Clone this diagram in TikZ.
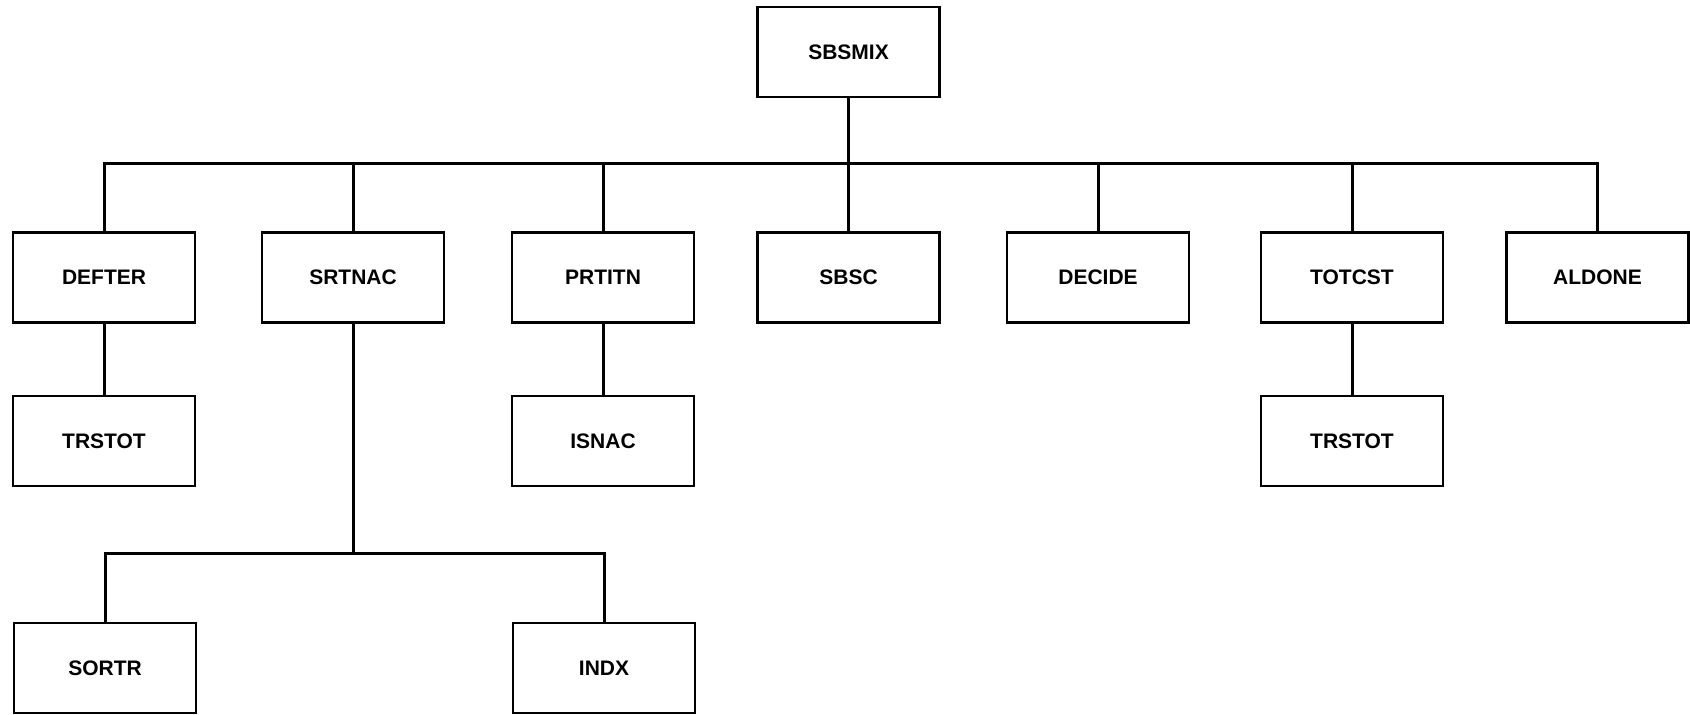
\documentclass[tikz,border=0pt]{standalone}
\usepackage{fontspec}
\setmainfont{Liberation Sans}
\begin{document}
\begin{tikzpicture}[x=1pt,y=-1pt,
  modbox/.style={draw, line width=2.6pt, minimum width=182pt, minimum height=90pt,
    inner sep=0pt, font=\fontsize{21}{25}\selectfont\bfseries},
  link/.style={line width=3pt}]
\useasboundingbox (0,0) rectangle (1690,715);

% top-level module
\node[modbox] (sbsmix) at (848.5,52) {SBSMIX};

% first level
\node[modbox] (defter) at (104,277.5)   {DEFTER};
\node[modbox] (srtnac) at (353,277.5)   {SRTNAC};
\node[modbox] (prtitn) at (603,277.5)   {PRTITN};
\node[modbox] (sbsc)   at (848.5,277.5) {SBSC};
\node[modbox] (decide) at (1098,277.5)  {DECIDE};
\node[modbox] (totcst) at (1352,277.5)  {TOTCST};
\node[modbox] (aldone) at (1597.5,277.5){ALDONE};

% second level
\node[modbox] (trstotA) at (104,441)  {TRSTOT};
\node[modbox] (isnac)   at (603,441)  {ISNAC};
\node[modbox] (trstotB) at (1352,441) {TRSTOT};

% third level under SRTNAC
\node[modbox] (sortr) at (105,668) {SORTR};
\node[modbox] (indx)  at (604,668) {INDX};

% bus levels
\coordinate (bus) at (0,163);
\coordinate (subbus) at (0,553);

% main bus
\draw[link] (sbsmix.south) -- (sbsmix.south |- bus);
\draw[link] (defter.north) -- (defter.north |- bus) -- (aldone.north |- bus) -- (aldone.north);
\foreach \n in {srtnac,prtitn,sbsc,decide,totcst}
  \draw[link] (\n.north) -- (\n.north |- bus);

% single children
\draw[link] (defter.south) -- (trstotA.north);
\draw[link] (prtitn.south) -- (isnac.north);
\draw[link] (totcst.south) -- (trstotB.north);

% SRTNAC branch
\draw[link] (srtnac.south) -- (srtnac.south |- subbus);
\draw[link] (sortr.north) -- (sortr.north |- subbus) -- (indx.north |- subbus) -- (indx.north);
\end{tikzpicture}
\end{document}
